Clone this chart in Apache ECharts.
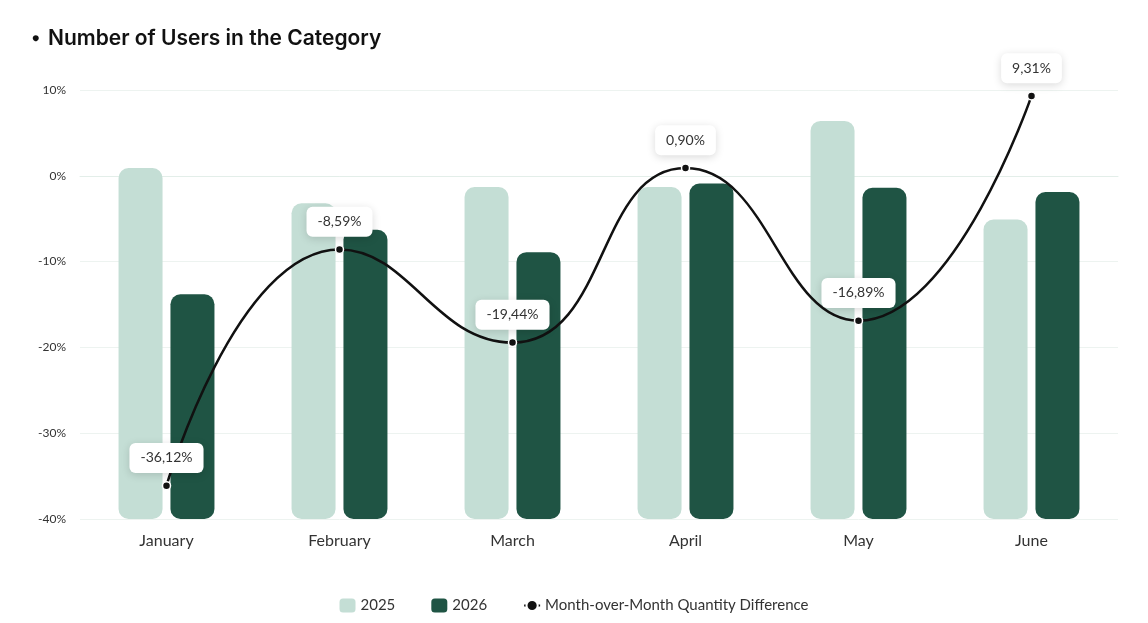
<!DOCTYPE html>
<html>
<head>
<meta charset="utf-8">
<script src="https://cdn.jsdelivr.net/npm/echarts@6/dist/echarts.min.js"></script>
<style>
    html, body {margin: 0; padding: 0; background: #fff;}
    #chart {width: 1148px; height: 623px;}
</style>
</head>
<body>
<div id="chart"></div>
<script>
const months = ['January', 'February', 'March', 'April', 'May', 'June'];
// bar heights on a hidden 0..50 scale
const users2025 = [40.9, 36.8, 38.7, 38.7, 46.4, 34.9];
const users2026 = [26.2, 33.7, 31.1, 39.1, 38.6, 38.1];
// month-over-month difference, %
const momDiff = [-36.12, -8.59, -19.44, 0.90, -16.89, 9.31];

const LIGHT = '#c4ded5';
const DARK = '#1f5444';
const FONT = 'Lato, "Open Sans", sans-serif';

const myChart = echarts.init(document.getElementById('chart'), null, {renderer: 'canvas'});

function fmtPct(v) {
    return v.toFixed(2).replace('.', ',') + '%';
}

myChart.setOption({
    animation: false,
    textStyle: {fontFamily: FONT},
    title: {
        left: 27,
        top: 23,
        text: '{dot|●}  {t|Number of Users in the Category}',
        textStyle: {
            rich: {
                dot: {fontSize: 12, color: '#111', verticalAlign: 'middle'},
                t: {fontSize: 21, fontWeight: 600, color: '#111', fontFamily: 'Inter, sans-serif'},
            },
        },
    },
    legend: {
        bottom: 5,
        left: 'center',
        itemGap: 36,
        itemWidth: 16,
        itemHeight: 14,
        textStyle: {fontSize: 15, color: '#333', fontFamily: FONT},
        data: [
            {name: '2025', icon: 'roundRect'},
            {name: '2026', icon: 'roundRect'},
            {name: 'Month-over-Month Quantity Difference'},
        ],
    },
    grid: {left: 80, right: 30, top: 90, bottom: 104},
    xAxis: {
        type: 'category',
        data: months,
        axisTick: {show: false},
        axisLine: {lineStyle: {color: '#e3eee9'}},
        axisLabel: {fontSize: 16, color: '#333', margin: 14},
    },
    yAxis: [
        {
            type: 'value',
            min: -40,
            max: 10,
            interval: 10,
            axisLabel: {formatter: '{value}%', fontSize: 12, color: '#333', margin: 14},
            splitLine: {lineStyle: {color: '#edf3f0'}},
        },
        {
            type: 'value',
            min: 0,
            max: 50,
            show: false,
            splitLine: {show: false},
        },
    ],
    series: [
        {
            name: '2025',
            type: 'bar',
            yAxisIndex: 1,
            data: users2025,
            barWidth: 44,
            barGap: '18%',
            itemStyle: {color: LIGHT, borderRadius: 10},
        },
        {
            name: '2026',
            type: 'bar',
            yAxisIndex: 1,
            data: users2026,
            barWidth: 44,
            itemStyle: {color: DARK, borderRadius: 10},
        },
        {
            name: 'Month-over-Month Quantity Difference',
            type: 'line',
            yAxisIndex: 0,
            data: momDiff,
            smooth: 0.5,
            symbol: 'circle',
            symbolSize: 8,
            lineStyle: {color: '#111', width: 2.5},
            itemStyle: {color: '#111', borderColor: '#fff', borderWidth: 1.5},
            z: 5,
            label: {
                show: true,
                position: 'top',
                distance: 8,
                formatter: (p) => fmtPct(p.value),
                fontSize: 14,
                color: '#333',
                backgroundColor: '#fff',
                borderRadius: 6,
                padding: [8, 11],
                shadowColor: 'rgba(0,0,0,0.15)',
                shadowBlur: 8,
                shadowOffsetY: 2,
            },
        },
    ],
});

window.addEventListener('resize', () => myChart.resize());
</script>
</body>
</html>
